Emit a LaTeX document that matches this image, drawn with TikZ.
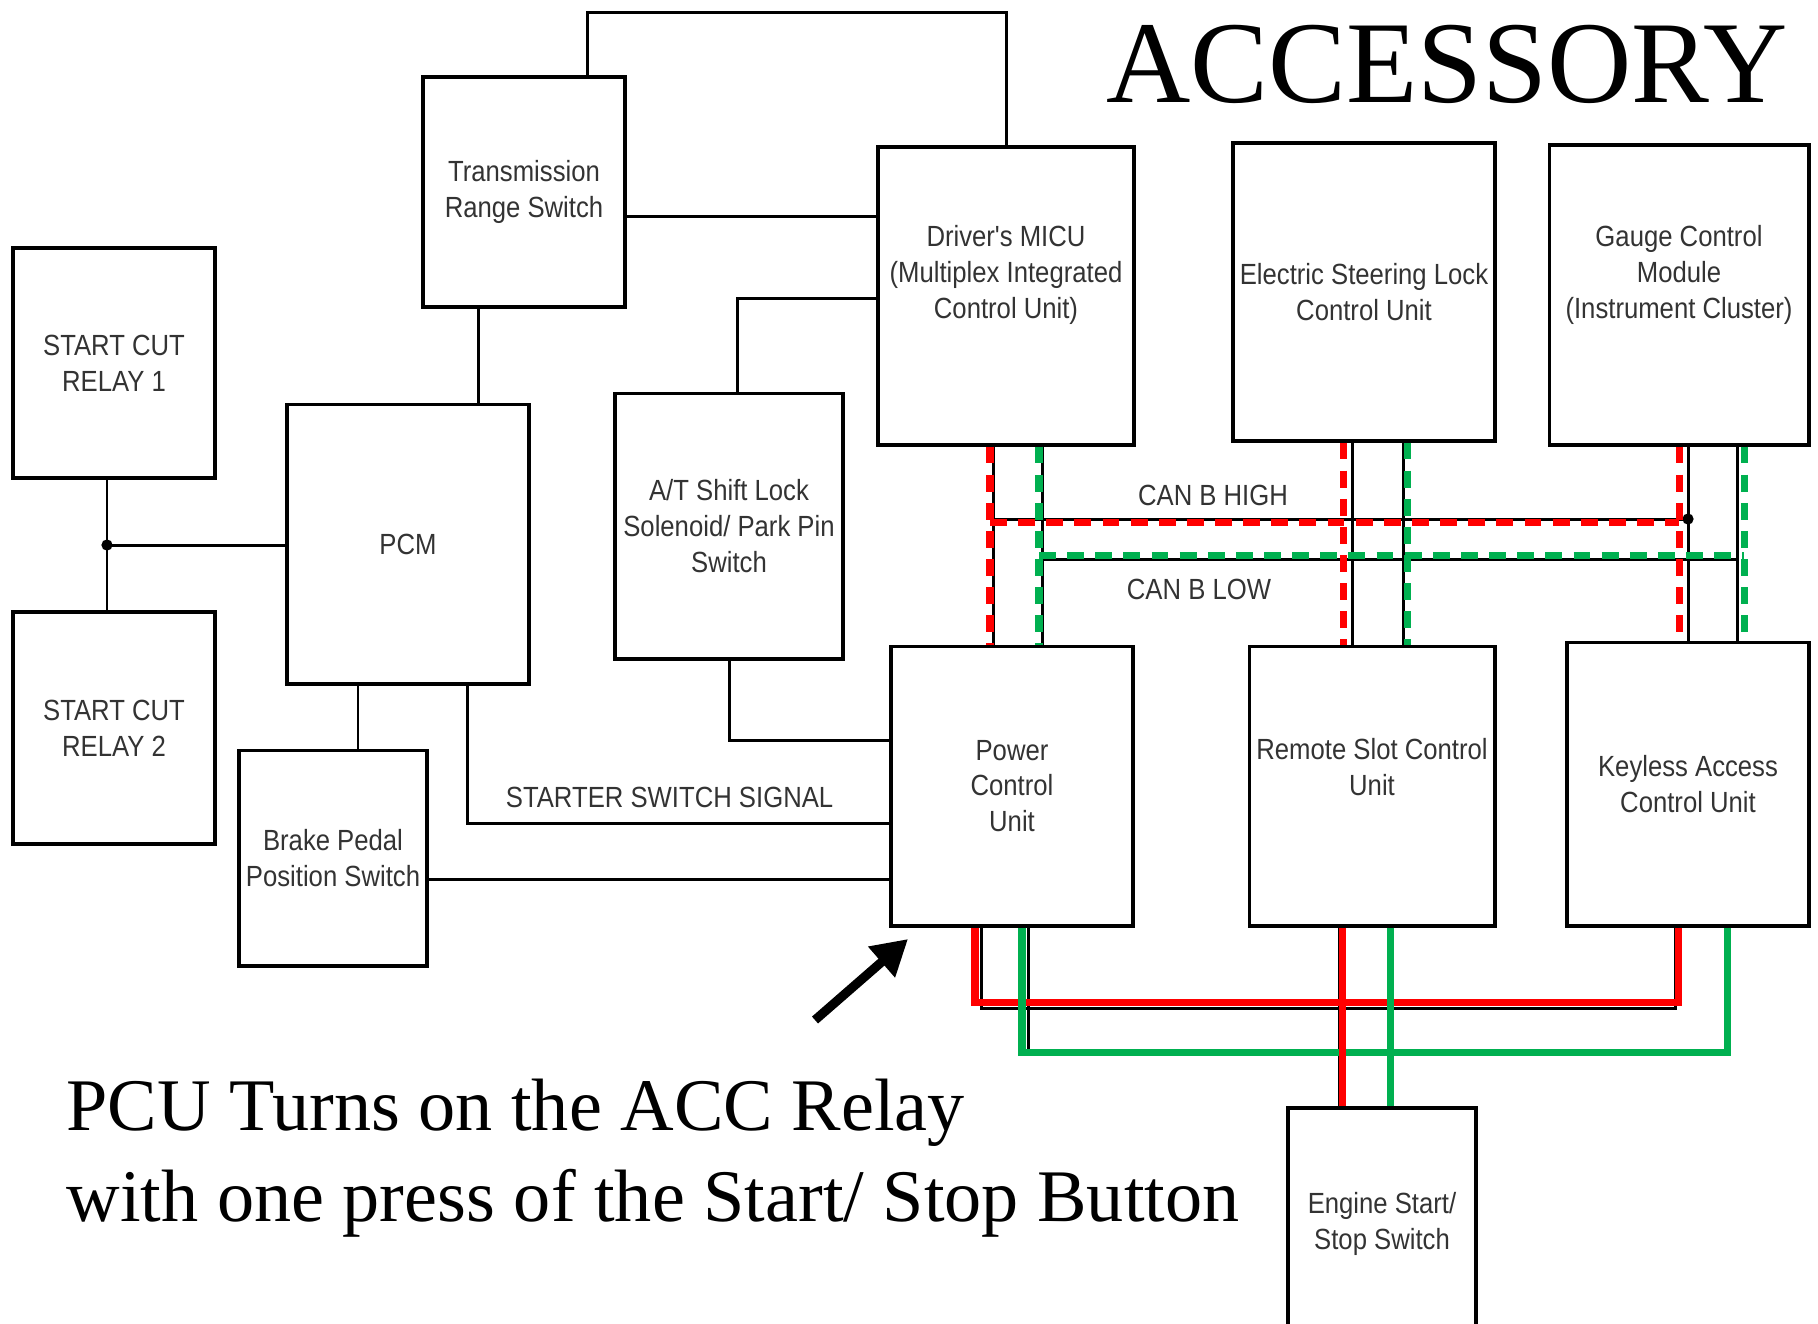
\documentclass[tikz,border=0pt]{standalone}
\usepackage{fontspec}
\setmainfont{Liberation Serif}
\newfontfamily\boxfont[FakeStretch=0.88]{Liberation Sans}
\usetikzlibrary{arrows.meta,calc,positioning}
\definecolor{canred}{HTML}{FF0000}
\definecolor{cangreen}{HTML}{00B050}
\definecolor{boxtext}{HTML}{333333}

\begin{document}
\begin{tikzpicture}[x=0.01cm, y=-0.01cm,
  unit/.style={draw, line width=1.1pt, fill=white, align=center, inner sep=2pt, text=boxtext, font=\boxfont\fontsize{8.3}{10.2}\selectfont},
  lbl/.style={text=boxtext, font=\boxfont\fontsize{8.3}{10.2}\selectfont, align=center, inner sep=1pt},
  wire/.style={line width=0.85pt},
  canhi/.style={canred, line width=2pt, dash pattern=on 4.8pt off 3.2pt},
  canlo/.style={cangreen, line width=2pt, dash pattern=on 4.8pt off 3.2pt},
  bushi/.style={canred, line width=2pt},
  buslo/.style={cangreen, line width=2pt},
  caption/.style={font=\fontsize{21.1}{25.6}\selectfont, anchor=base west, inner sep=0pt}]
  \useasboundingbox (0,0) rectangle (1818,1323);
  \clip (0,0) rectangle (1818,1323);
  % units
  \node[unit, minimum width=2.02cm, minimum height=2.30cm] (relay1) at (114,363) {START CUT\\RELAY 1};
  \node[unit, minimum width=2.02cm, minimum height=2.32cm] (relay2) at (114,728) {START CUT\\RELAY 2};
  \node[unit, minimum width=2.41cm, minimum height=2.79cm] (pcm) at (408,544) {PCM};
  \node[unit, minimum width=2.02cm, minimum height=2.30cm] (trs) at (524,192) {Transmission\\Range Switch};
  \node[unit, minimum width=2.56cm, minimum height=2.97cm] (micu) at (1006,296) {};
  \node[lbl] (micu-txt) at ($(micu)+(0,-21)$) {Driver's MICU\\(Multiplex Integrated\\Control Unit)};
  \node[unit, minimum width=2.28cm, minimum height=2.65cm] (atlock) at (729,526) {A/T Shift Lock\\Solenoid/ Park Pin\\Switch};
  \node[unit, minimum width=1.87cm, minimum height=2.15cm] (brake) at (333,858) {Brake Pedal\\Position Switch};
  \node[unit, minimum width=2.42cm, minimum height=2.79cm] (pcu) at (1012,786) {Power\\Control\\Unit};
  \node[unit, minimum width=2.61cm, minimum height=2.97cm] (esl) at (1364,292) {Electric Steering Lock\\Control Unit};
  \node[unit, minimum width=2.59cm, minimum height=2.99cm] (gauge) at (1679,295) {};
  \node[lbl] (gauge-txt) at ($(gauge)+(0,-20)$) {Gauge Control\\Module\\(Instrument Cluster)};
  \node[unit, minimum width=2.45cm, minimum height=2.79cm] (remote) at (1372,786) {};
  \node[lbl] (remote-txt) at ($(remote)+(0,-19)$) {Remote Slot Control\\Unit};
  \node[unit, minimum width=2.42cm, minimum height=2.83cm] (keyless) at (1688,784) {Keyless Access\\Control Unit};
  \node[unit, minimum width=1.88cm, minimum height=2.32cm] (engine) at (1382,1224) {Engine Start/\\Stop Switch};
  % hard wires
  \coordinate (junc) at (107,545);
  \draw[wire] (relay1.south -| junc) -- (relay2.north -| junc);
  \draw[wire] (junc) -- (junc -| pcm.west);
  \fill (junc) circle (1.6pt);
  \draw[wire] (trs.south -| 478,0) -- (pcm.north -| 478,0);
  \draw[wire] (trs.north -| 587,0) -- (587,12) -| (micu.north);
  \draw[wire] (trs.east |- 0,216) -- (micu.west |- 0,216);
  \draw[wire] (atlock.north -| 737,0) |- (micu.west |- 0,298);
  \draw[wire] (atlock.south) |- (pcu.west |- 0,740);
  \draw[wire] (pcm.south -| 358,0) -- (brake.north -| 358,0);
  \draw[wire] (pcm.south -| 467,0) |- node[lbl, pos=0.74, above=3pt] (starter) {STARTER SWITCH SIGNAL} (pcu.west |- 0,823);
  \draw[wire] (brake.east |- 0,879) -- (pcu.west |- 0,879);
  % CAN B wires
  \coordinate (hi-left) at (993,519);
  \coordinate (hi-right) at (1688,519);
  \coordinate (lo-left) at (1042,559);
  \coordinate (lo-right) at (1737,559);
  \draw[wire] (micu.south -| hi-left) -- (pcu.north -| hi-left);
  \draw[wire] (micu.south -| lo-left) -- (pcu.north -| lo-left);
  \draw[wire] (esl.south -| 1352,0) -- (remote.north -| 1352,0);
  \draw[wire] (esl.south -| 1403,0) -- (remote.north -| 1403,0);
  \draw[wire] (gauge.south -| hi-right) -- (keyless.north -| hi-right);
  \draw[wire] (gauge.south -| lo-right) -- (keyless.north -| lo-right);
  \draw[wire] (hi-left) -- (hi-right);
  \draw[wire] (lo-left) -- (lo-right);
  \fill (hi-right) circle (1.6pt);
  \coordinate (red-left) at (990,522);
  \coordinate (red-right) at (1679,522);
  \coordinate (green-left) at (1039,555);
  \coordinate (green-right) at (1744,555);
  \draw[canhi] (micu.south -| red-left) -- (pcu.north -| red-left);
  \draw[canhi] (esl.south -| 1343,0) -- (remote.north -| 1343,0);
  \draw[canhi] (gauge.south -| red-right) -- (keyless.north -| red-right);
  \draw[canhi] (red-left) -- (red-right);
  \draw[canlo] (micu.south -| green-left) -- (pcu.north -| green-left);
  \draw[canlo] (esl.south -| 1407,0) -- (remote.north -| 1407,0);
  \draw[canlo] (gauge.south -| green-right) -- (keyless.north -| green-right);
  \draw[canlo] (green-left) -- (green-right);
  \node[lbl] (canhi-lbl) at (1213,495) {CAN B HIGH};
  \node[lbl] (canlo-lbl) at (1199,589) {CAN B LOW};
  % bottom bus
  \draw[wire] (pcu.south -| 981,0) |- (1675,1008) -- (keyless.south -| 1675,0);
  \draw[wire] (pcu.south -| 1028,0) |- (1727,1052) -- (keyless.south -| 1727,0);
  \draw[wire] (remote.south -| 1339,0) -- (engine.north -| 1339,0);
  \draw[wire] (remote.south -| 1389,0) -- (engine.north -| 1389,0);
  \draw[bushi] (pcu.south -| 975,0) |- (1678,1002) -- (keyless.south -| 1678,0);
  \draw[buslo] (pcu.south -| 1022,0) |- (1727,1052) -- (keyless.south -| 1727,0);
  \draw[bushi] (remote.south -| 1342,0) -- (engine.north -| 1342,0);
  \draw[buslo] (remote.south -| 1390,0) -- (engine.north -| 1390,0);
  % title, arrow and caption
  \node[font=\fontsize{33.2}{40}\selectfont, inner sep=0pt] (title) at (1447,64) {ACCESSORY};
  \coordinate (arrow-tail) at (815,1020);
  \coordinate (arrow-tip) at (908,939);
  \draw[line width=2.6pt, -{Triangle[length=10pt,width=11pt]}] (arrow-tail) -- (arrow-tip);
  \node[caption] (cap1) at (66,1130) {PCU Turns on the ACC Relay};
  \node[caption] (cap2) at (66,1221) {with one press of the Start/ Stop Button};
\end{tikzpicture}
\end{document}
